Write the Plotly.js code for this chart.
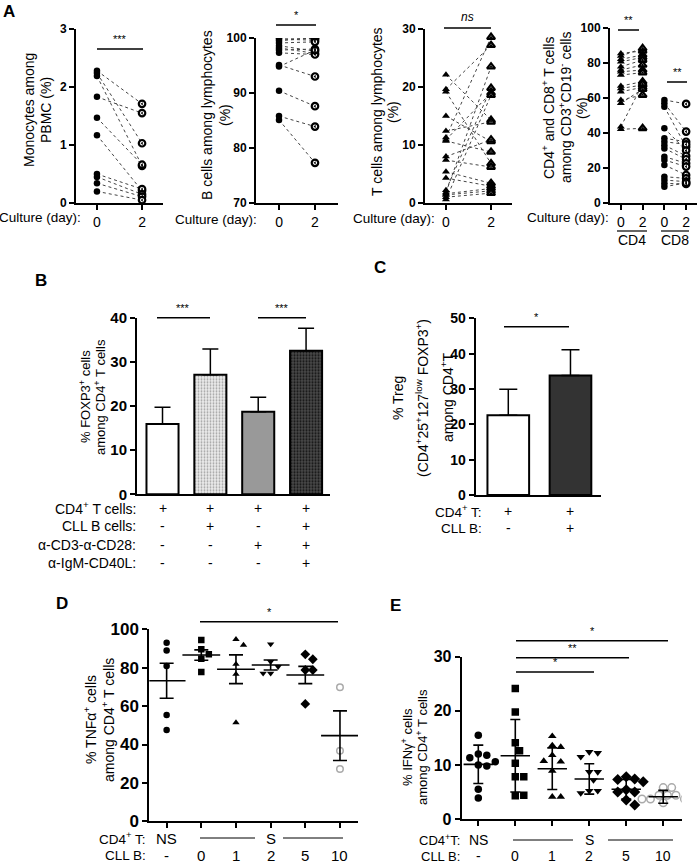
<!DOCTYPE html>
<html><head><meta charset="utf-8">
<script src="https://cdn.plot.ly/plotly-3.0.1.min.js"></script>
<style>html,body{margin:0;padding:0;background:#fff}</style>
</head><body><div id="chart" style="width:698px;height:863px"></div>
<script>
// ---------------- DATA ----------------
// Panel A
const monoDay0 = [2.28, 2.24, 2.19, 1.83, 1.47, 1.17, 0.50, 0.45, 0.34, 0.20];
const monoDay2 = [1.71, 1.03, 0.64, 1.55, 0.66, 0.21, 0.24, 0.15, 0.11, 0.05];
const bDay0 = [100, 99.8, 99.5, 99.1, 98.6, 98.2, 97.8, 97.3, 95.1, 94.8, 90.4, 85.8, 85.1];
const bDay2 = [99.9, 99.6, 100, 99.3, 97.6, 97.2, 98.0, 97.0, 93.0, 97.8, 87.6, 83.9, 77.3];
const tDay0 = [22.1, 19.6, 19.2, 15.0, 12.4, 11.3, 10.9, 10.7, 8.0, 7.4, 5.4, 4.3, 2.2, 1.8, 1.6, 1.4, 1.0, 0.6];
const tDay2 = [14.3, 27.2, 6.8, 10.6, 14.0, 28.6, 19.0, 8.8, 10.9, 6.2, 3.4, 2.9, 19.8, 23.5, 2.5, 2.1, 1.7, 18.6];
const cd4Day0 = [85.5, 84.0, 82.1, 80.7, 77.9, 76.0, 75.0, 73.1, 66.9, 65.5, 63.6, 58.9, 57.0, 43.6, 42.1];
const cd4Day2 = [86.9, 88.4, 84.6, 83.2, 81.7, 78.9, 76.0, 74.5, 69.3, 67.4, 66.1, 61.7, 65.0, 68.0, 42.7];
const cd8Day0 = [58.9, 57.0, 55.0, 42.7, 37.0, 35.0, 33.0, 31.2, 26.5, 24.6, 21.7, 15.0, 13.1, 11.2, 9.3];
const cd8Day2 = [56.6, 40.8, 32.0, 30.0, 35.0, 33.5, 26.9, 25.0, 22.7, 20.8, 16.0, 14.1, 12.2, 10.9, 11.5];
const cultureTicks = ['0', '2'];
const cd48Ticks = ['0', '2', '0', '2'];

// Panel B
const foxMean = [15.9, 27.1, 18.7, 32.5];
const foxErr = [3.8, 5.8, 3.3, 5.1];
const bRowLabels = ['CD4<sup>+</sup> T cells:', 'CLL B cells:', 'α-CD3-α-CD28:', 'α-IgM-CD40L:'];
const bRows = [['+','+','+','+'], ['-','+','-','+'], ['-','-','+','+'], ['-','-','-','+']];

// Panel C
const tregMean = [22.6, 33.8];
const tregErr = [7.3, 7.3];
const cRowLabels = ['CD4<sup>+</sup> T:', 'CLL B:'];
const cRows = [['+','+'], ['-','+']];

// Panel D
const tnfGroups = [
  [93.0, 88.9, 80.9, 55.4, 47.6],
  [94.4, 89.6, 87.0, 84.7, 77.8],
  [94.8, 91.8, 81.8, 76.6, 51.4],
  [92.3, 83.1, 80.5, 77.1, 77.1],
  [87.0, 84.4, 78.8, 78.8, 61.1],
  [69.8, 36.8, 27.2]
];
const tnfMean = [73.2, 86.6, 79.2, 81.4, 76.2, 44.6];
const tnfSem = [9.1, 2.7, 7.5, 2.6, 4.5, 12.9];

// Panel E
const ifnGroups = [
  [15.5, 12.0, 11.8, 11.3, 10.6, 10.0, 9.8, 5.5, 3.9],
  [24.1, 19.8, 14.1, 12.6, 10.3, 7.8, 7.8, 4.3, 4.4],
  [15.3, 13.6, 13.3, 11.8, 10.6, 10.7, 8.9, 4.1, 4.1],
  [12.4, 12.2, 11.5, 8.7, 8.7, 7.2, 5.2, 5.2, 4.8],
  [7.8, 7.4, 7.3, 6.9, 5.4, 5.0, 5.0, 3.5, 2.6],
  [5.8, 5.8, 4.4, 4.4, 4.4, 3.7, 3.7, 3.7, 3.0]
];
const ifnMean = [10.1, 11.7, 9.3, 7.4, 5.5, 4.1];
const ifnSd = [3.55, 6.7, 3.85, 2.8, 1.8, 1.2];

const cd4Row = ['NS', 'S'];
const cllRow = ['-', '0', '1', '2', '5', '10'];

// ---------------- LAYOUT HELPERS ----------------
const W = 698, H = 863;
const FONT = 'Liberation Sans, Arial, Helvetica, sans-serif';
const px = x => x / W;
const py = y => 1 - y / H;

function xAx(l, r, range, extra) {
  return Object.assign({
    domain: [px(l), px(r)], range: range, showline: true, linewidth: 2, linecolor: '#000',
    ticks: 'outside', ticklen: 5, tickwidth: 2, tickcolor: '#000', showgrid: false,
    zeroline: false, fixedrange: true, tickfont: {family: FONT, size: 14, color: '#000'}
  }, extra || {});
}
function yAx(t, b, range, dtick, fs, anchor) {
  return {
    domain: [py(b), py(t)], range: range, dtick: dtick, tick0: 0, showline: true, linewidth: 2,
    linecolor: '#000', ticks: 'outside', ticklen: 5, tickwidth: 2, tickcolor: '#000',
    showgrid: false, zeroline: false, fixedrange: true, anchor: anchor,
    tickfont: {family: FONT, size: fs, color: '#000', weight: 'bold'}
  };
}

const annotations = [];
const shapes = [];
function txt(x, y, text, o) {
  o = o || {};
  annotations.push({
    xref: 'paper', yref: 'paper', x: px(x), y: py(y), text: text, showarrow: false,
    xanchor: o.xa || 'center', yanchor: o.ya || 'middle', textangle: o.angle || 0,
    font: {family: FONT, size: o.size || 14, color: '#000', weight: o.bold ? 'bold' : 'normal', style: o.italic ? 'italic' : 'normal'}
  });
}
function hline(x0, x1, y, w) {
  shapes.push({type: 'line', xref: 'paper', yref: 'paper', x0: px(x0), x1: px(x1), y0: py(y), y1: py(y),
    line: {color: '#000', width: w || 1.5}});
}
function sig(x0, x1, y, label, italic, size) {
  hline(x0, x1, y, 1.5);
  txt((x0 + x1) / 2, y - 2, label, {ya: 'bottom', size: size || 11, italic: italic});
}
function vtitle(xs, y, lines, size) {
  lines.forEach((l, i) => txt(xs[i], y, l, {angle: -90, size: size}));
}
function dataTxt(xref, x, y, text, size) {
  annotations.push({xref: xref, yref: 'paper', x: x, y: py(y), text: text, showarrow: false,
    xanchor: 'center', yanchor: 'middle', font: {family: FONT, size: size || 14, color: '#000'}});
}

// ---------------- TRACES ----------------
const traces = [];
const pairLine = {color: '#444', width: 1, dash: 'dot'};
function pairs(xa, ya, x0, x1, v0, v1) {
  const xs = [], ys = [];
  v0.forEach((v, i) => { xs.push(x0, x1, null); ys.push(v, v1[i], null); });
  traces.push({type: 'scatter', mode: 'lines', x: xs, y: ys, xaxis: xa, yaxis: ya, line: pairLine, hoverinfo: 'skip'});
}
function pts(xa, ya, xv, vals, symbol, filled, size) {
  const s = size || 6.5;
  traces.push({type: 'scatter', mode: 'markers', x: vals.map(() => xv), y: vals, xaxis: xa, yaxis: ya,
    marker: {symbol: symbol, size: s, color: filled ? '#000' : '#fff', line: {color: '#000', width: filled ? 0 : 2.2}}});
  if (!filled) {
    traces.push({type: 'scatter', mode: 'markers', x: vals.map(() => xv), y: vals, xaxis: xa, yaxis: ya,
      marker: {symbol: symbol === 'circle' ? 'triangle-left' : 'triangle-up', size: s * 0.45, color: '#000', line: {width: 0}}});
  }
}
// A1
pairs('x', 'y', 0, 2, monoDay0, monoDay2);
pts('x', 'y', 0, monoDay0, 'circle', true);
pts('x', 'y', 2, monoDay2, 'circle', false);
// A2
pairs('x2', 'y2', 0, 2, bDay0, bDay2);
pts('x2', 'y2', 0, bDay0, 'circle', true);
pts('x2', 'y2', 2, bDay2, 'circle', false);
// A3
pairs('x3', 'y3', 0, 2, tDay0, tDay2);
pts('x3', 'y3', 0, tDay0, 'triangle-up', true, 7);
pts('x3', 'y3', 2, tDay2, 'triangle-up', false, 7);
// A4
pairs('x4', 'y4', 0, 1, cd4Day0, cd4Day2);
pairs('x4', 'y4', 2, 3, cd8Day0, cd8Day2);
pts('x4', 'y4', 0, cd4Day0, 'triangle-up', true, 7);
pts('x4', 'y4', 1, cd4Day2, 'triangle-up', false, 7);
pts('x4', 'y4', 2, cd8Day0, 'circle', true);
pts('x4', 'y4', 3, cd8Day2, 'circle', false);

// B bars: one trace per bar so each can carry its own fill texture
const bStyles = [
  {color: '#ffffff'},
  {color: '#e6e6e6', pattern: {shape: '.', bgcolor: '#ececec', fgcolor: '#a0a0a0', size: 3, solidity: 0.3}},
  {color: '#999999'},
  {color: '#3f3f3f', pattern: {shape: '.', bgcolor: '#4a4a4a', fgcolor: '#111111', size: 3, solidity: 0.4}}
];
foxMean.forEach((m, i) => {
  traces.push({type: 'bar', x: [i], y: [m], xaxis: 'x5', yaxis: 'y5', width: 0.67,
    marker: Object.assign({line: {color: '#000', width: 2}}, bStyles[i]),
    error_y: {type: 'data', symmetric: false, array: [foxErr[i]], arrayminus: [0], color: '#000', thickness: 1.5, width: 8}});
});
// C bars
traces.push({type: 'bar', x: [0, 1], y: tregMean, xaxis: 'x6', yaxis: 'y6', width: 0.67,
  marker: {color: ['#ffffff', '#333333'], line: {color: '#000', width: 2}},
  error_y: {type: 'data', symmetric: false, array: tregErr, arrayminus: tregErr.map(() => 0), color: '#000', thickness: 1.5, width: 9}});

// scatter dot plots with a simple beeswarm
function swarm(center, vals, pxY, pxX, d) {
  const placed = [];
  return vals.map(v => {
    const y = v * pxY;
    let best = 0;
    for (let k = 0; k < 30; k++) {
      const off = k === 0 ? 0 : (k % 2 ? 1 : -1) * Math.ceil(k / 2) * d * 0.5;
      if (placed.every(p => Math.hypot(p[0] - off, p[1] - y) >= d)) { best = off; break; }
    }
    placed.push([best, y]);
    return center + best / pxX;
  });
}
const grpSym = ['circle', 'square', 'triangle-up', 'triangle-down', 'diamond', 'circle-open'];
function dotPlot(xa, ya, groups, means, errs, pxY, pxX, size, meanLen, cap) {
  groups.forEach((g, i) => {
    const open = grpSym[i] === 'circle-open';
    traces.push({type: 'scatter', mode: 'markers', xaxis: xa, yaxis: ya,
      x: swarm(i, g, pxY, pxX, size + 1), y: g,
      marker: {symbol: grpSym[i], size: grpSym[i] === 'diamond' ? size + 1 : size, color: open ? '#aaa' : '#000',
        line: {color: open ? '#aaa' : '#000', width: open ? 1.5 : 0}}});
  });
  traces.push({type: 'scatter', mode: 'markers', xaxis: xa, yaxis: ya, x: means.map((_, i) => i), y: means,
    marker: {symbol: 'line-ew', size: meanLen, color: '#000', line: {color: '#000', width: 1.6}},
    error_y: {type: 'data', array: errs, color: '#000', thickness: 1.6, width: cap}});
}
dotPlot('x7', 'y7', tnfGroups, tnfMean, tnfSem, (821.3 - 629.3) / 100, 34.6, 6.5, 27, 7);
dotPlot('x8', 'y8', ifnGroups, ifnMean, ifnSd, (819 - 656.7) / 30, 37, 7.5, 21, 5);

// ---------------- ANNOTATIONS ----------------
txt(9, 11, 'A', {size: 17, bold: true});
txt(41, 280, 'B', {size: 17, bold: true});
txt(380, 267, 'C', {size: 17, bold: true});
txt(62, 603, 'D', {size: 17, bold: true});
txt(395, 605, 'E', {size: 17, bold: true});

// A
vtitle([29, 46], 110, ['Monocytes among', 'PBMC (%)'], 14);
vtitle([207, 225], 115, ['B cells among lymphocytes', '(%)'], 14);
vtitle([377, 393], 112, ['T cells among lymphocytes', '(%)'], 14);
vtitle([548, 565, 582], 108, ['CD4<sup>+</sup> and CD8<sup>+</sup> T cells', 'among CD3<sup>+</sup>CD19<sup>-</sup> cells', '(%)'], 14);
sig(97, 143, 49, '***');
sig(276, 316, 25, '*');
sig(444, 491, 28, 'ns', true, 12);
sig(618, 639, 30, '**');
sig(667, 687, 82, '**');
txt(83, 217, 'Culture (day):', {xa: 'right', size: 13.5});
txt(259, 219, 'Culture (day):', {xa: 'right', size: 13.5});
txt(437, 218, 'Culture (day):', {xa: 'right', size: 13.5});
txt(611, 217, 'Culture (day):', {xa: 'right', size: 13.5});
hline(617, 647, 231, 1.2);
hline(661, 689, 231, 1.2);
txt(632, 240, 'CD4');
txt(675, 240, 'CD8');

// B
vtitle([85, 100], 397, ['% FOXP3<sup>+</sup> cells', 'among CD4<sup>+</sup> T cells'], 13);
sig(157, 210, 317.7, '***');
sig(258, 306, 317.7, '***');
const bRowY = [508, 526, 545, 563];
bRowLabels.forEach((l, r) => {
  txt(138, bRowY[r], l, {xa: 'right'});
  bRows[r].forEach((s, i) => dataTxt('x5', i, bRowY[r], s));
});

// C
vtitle([398, 422, 447], 398, ['% Treg', '(CD4<sup>+</sup>25<sup>+</sup>127<sup>low</sup> FOXP3<sup>+</sup>)', 'among CD4<sup>+</sup>T'], 14);
sig(504, 569, 326.7, '*');
const cRowY = [511, 528];
cRowLabels.forEach((l, r) => {
  txt(484, cRowY[r], l, {xa: 'right', size: 13.5});
  cRows[r].forEach((s, i) => dataTxt('x6', i, cRowY[r], s));
});

// D
vtitle([90, 108], 720, ['% TNFα<sup>+</sup> cells', 'among CD4<sup>+</sup> T cells'], 14);
sig(200, 338, 621.7, '*');
txt(148, 838, 'CD4<sup>+</sup> T:', {xa: 'right', size: 13.5});
txt(148, 855, 'CLL B:', {xa: 'right', size: 13.5});
dataTxt('x7', 0, 838, cd4Row[0], 15);
dataTxt('x7', 3, 838, cd4Row[1], 15);
hline(200, 255, 838, 1);
hline(283, 343, 838, 1);
cllRow.forEach((s, i) => dataTxt('x7', i, 855, s, 15));

// E
vtitle([407, 422], 747, ['% IFNγ<sup>+</sup> cells', 'among CD4<sup>+</sup> T cells'], 13);
sig(516, 668, 640.7, '*');
sig(516, 629, 657.7, '**');
sig(516, 594, 672, '*');
txt(462, 840, 'CD4<sup>+</sup>T:', {xa: 'right', size: 13});
txt(462, 856, 'CLL B:', {xa: 'right', size: 13});
dataTxt('x8', 0, 840, cd4Row[0], 14);
dataTxt('x8', 3, 840, cd4Row[1], 14);
hline(513, 573, 840, 1);
hline(608, 673, 840, 1);
cllRow.forEach((s, i) => dataTxt('x8', i, 856, s, 14));

// ---------------- LAYOUT ----------------
const layout = {
  width: W, height: H, margin: {l: 0, r: 0, t: 0, b: 0}, autosize: false,
  paper_bgcolor: '#fff', plot_bgcolor: 'rgba(0,0,0,0)', showlegend: false, barmode: 'overlay',
  font: {family: FONT, color: '#000'},
  xaxis:  xAx(76, 163, [-0.93, 2.93], {anchor: 'y', tickvals: [0, 2], ticktext: cultureTicks}),
  yaxis:  yAx(29, 203, [0, 3], 1, 12, 'x'),
  xaxis2: xAx(256, 338, [-1.28, 3.28], {anchor: 'y2', tickvals: [0, 2], ticktext: cultureTicks}),
  yaxis2: yAx(38, 203, [70, 100], 10, 12, 'x2'),
  xaxis3: xAx(425, 512, [-0.93, 2.93], {anchor: 'y3', tickvals: [0, 2], ticktext: cultureTicks}),
  yaxis3: yAx(29, 203, [0, 30], 10, 12, 'x3'),
  xaxis4: xAx(610, 697, [-0.5, 3.5], {anchor: 'y4', tickvals: [0, 1, 2, 3], ticktext: cd48Ticks}),
  yaxis4: yAx(28, 203, [0, 100], 20, 12, 'x4'),
  xaxis5: xAx(137, 330, [-0.533, 3.5], {anchor: 'y5', ticks: '', showticklabels: false}),
  yaxis5: yAx(317.7, 494.3, [0, 40], 10, 15, 'x5'),
  xaxis6: xAx(475.7, 600.7, [-0.524, 1.486], {anchor: 'y6', ticks: '', showticklabels: false}),
  yaxis6: yAx(318.3, 495, [0, 50], 10, 14, 'x6'),
  xaxis7: xAx(149.3, 358, [-0.5, 5.52], {anchor: 'y7', tickvals: [0, 1, 2, 3, 4, 5], showticklabels: false}),
  yaxis7: yAx(629.3, 821.3, [0, 100], 20, 17, 'x7'),
  xaxis8: xAx(461.7, 681.7, [-0.449, 5.5], {anchor: 'y8', tickvals: [0, 1, 2, 3, 4, 5], showticklabels: false}),
  yaxis8: yAx(656.7, 819, [0, 30], 10, 16, 'x8'),
  annotations: annotations, shapes: shapes
};
Plotly.newPlot('chart', traces, layout, {displayModeBar: false, staticPlot: true});
</script>
</body></html>
